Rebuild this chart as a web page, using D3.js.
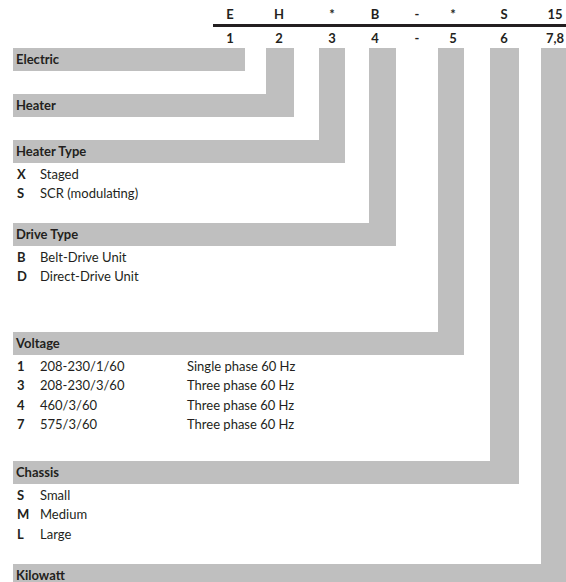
<!DOCTYPE html>
<html>
<head>
<meta charset="utf-8">
<script src="https://cdn.jsdelivr.net/npm/d3@7"></script>
<style>
  body { margin: 0; background: #fff; }
  svg { display: block; font-family: Lato, "Open Sans", sans-serif; }
</style>
</head>
<body>
<svg id="chart" width="566" height="582"></svg>
<script>
// model number code row
const codeChars = ["E", "H", "*", "B", "-", "*", "S", "15"];
const codeDigits = ["1", "2", "3", "4", "-", "5", "6", "7,8"];

// sections and their options
const sectionTitles = ["Electric", "Heater", "Heater Type", "Drive Type", "Voltage", "Chassis", "Kilowatt"];
const heaterTypeCodes = ["X", "S"];
const heaterTypeNames = ["Staged", "SCR (modulating)"];
const driveCodes = ["B", "D"];
const driveNames = ["Belt-Drive Unit", "Direct-Drive Unit"];
const voltageCodes = ["1", "3", "4", "7"];
const voltageValues = ["208-230/1/60", "208-230/3/60", "460/3/60", "575/3/60"];
const voltagePhases = ["Single phase 60 Hz", "Three phase 60 Hz", "Three phase 60 Hz", "Three phase 60 Hz"];
const chassisCodes = ["S", "M", "L"];
const chassisNames = ["Small", "Medium", "Large"];

// layout
const gray = "#bfbfbf";
const ink = "#231f20";
const fs = 13;
const colX = [230, 279, 332, 375, 417, 453, 504, 555];
const barX = [[218, 245], [266, 294], [319, 345], [369, 396], [438, 464], [490, 519], [541, 566]];
const boxTop = [48, 94, 140, 223, 332, 461, 564];
const boxH = 23;
const boxLeft = 13;
const barTop = 48;
const rowGap = 19.3;

const sections = sectionTitles.map((t, i) => ({ title: t, i, items: [] }));
sections[2].items = heaterTypeCodes.map((c, k) => [c, heaterTypeNames[k]]);
sections[3].items = driveCodes.map((c, k) => [c, driveNames[k]]);
sections[4].items = voltageCodes.map((c, k) => [c, voltageValues[k], voltagePhases[k]]);
sections[5].items = chassisCodes.map((c, k) => [c, chassisNames[k]]);

const svg = d3.select("#chart");

// header row
svg.append("line")
  .attr("x1", 213).attr("x2", 566)
  .attr("y1", 25.5).attr("y2", 25.5)
  .attr("stroke", ink).attr("stroke-width", 3);

svg.selectAll(".code")
  .data(codeChars)
  .enter()
  .append("text")
  .attr("class", "code")
  .attr("x", (d, i) => colX[i])
  .attr("y", 18.5)
  .attr("text-anchor", "middle")
  .attr("font-size", fs)
  .attr("font-weight", "bold")
  .attr("fill", ink)
  .text((d) => d);

svg.selectAll(".digit")
  .data(codeDigits)
  .enter()
  .append("text")
  .attr("class", "digit")
  .attr("x", (d, i) => colX[i])
  .attr("y", 43)
  .attr("text-anchor", "middle")
  .attr("font-size", fs)
  .attr("font-weight", "bold")
  .attr("fill", ink)
  .text((d) => d);

// vertical connectors
svg.selectAll(".bar")
  .data(sections)
  .enter()
  .append("rect")
  .attr("class", "bar")
  .attr("x", (d) => barX[d.i][0])
  .attr("y", barTop)
  .attr("width", (d) => barX[d.i][1] - barX[d.i][0])
  .attr("height", (d) => boxTop[d.i] + boxH - barTop)
  .attr("fill", gray);

// section header boxes
svg.selectAll(".box")
  .data(sections)
  .enter()
  .append("rect")
  .attr("class", "box")
  .attr("x", boxLeft)
  .attr("y", (d) => boxTop[d.i])
  .attr("width", (d) => barX[d.i][1] - boxLeft)
  .attr("height", boxH)
  .attr("fill", gray);

svg.selectAll(".title")
  .data(sections)
  .enter()
  .append("text")
  .attr("class", "title")
  .attr("x", 16)
  .attr("y", (d) => boxTop[d.i] + 16)
  .attr("font-size", fs)
  .attr("font-weight", "bold")
  .attr("fill", ink)
  .text((d) => d.title);

// option rows
sections.forEach((s) => {
  const g = svg.append("g");
  const rows = g.selectAll("g")
    .data(s.items)
    .enter()
    .append("g")
    .attr("transform", (d, k) => `translate(0,${boxTop[s.i] + boxH + 16 + k * rowGap})`);
  rows.append("text")
    .attr("x", 17)
    .attr("font-size", fs)
    .attr("font-weight", "bold")
    .attr("fill", ink)
    .text((d) => d[0]);
  rows.append("text")
    .attr("x", 40)
    .attr("font-size", fs)
    .attr("fill", ink)
    .text((d) => d[1]);
  rows.filter((d) => d.length > 2)
    .append("text")
    .attr("x", 187)
    .attr("font-size", fs)
    .attr("fill", ink)
    .text((d) => d[2]);
});
</script>
</body>
</html>
